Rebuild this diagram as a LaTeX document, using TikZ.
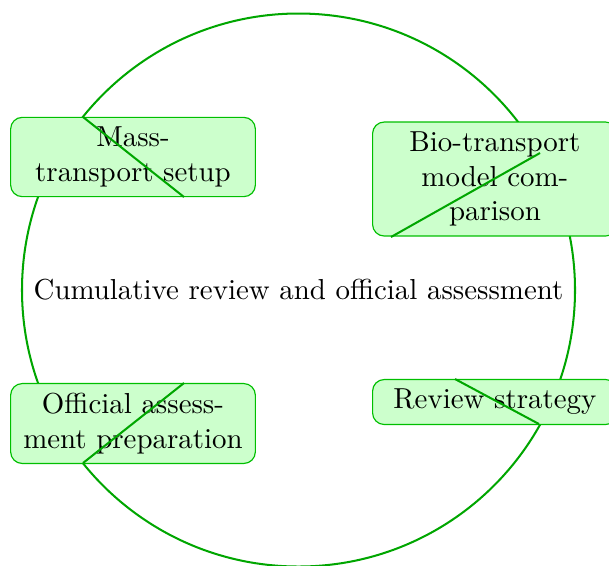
\documentclass[tikz,border=0pt]{standalone}
\begin{document}
\begin{tikzpicture}[x=0.346pt,y=-0.346pt,
  stagebox/.style={draw=green!75!black, line width=0.4pt, fill=green!20, rounded corners=4pt,
    text width=78pt, align=center, inner sep=3.33pt, font=\normalsize},
  ring/.style={draw=green!65!black, line width=0.7pt},
  chord/.style={draw=green!65!black, line width=0.7pt}]
\useasboundingbox (0,0) rectangle (609,565);
\node[inner sep=0pt] (hub) at (298.5,290) {Cumulative review and official assessment};
\draw[ring] (hub.center) circle[radius=276.5];
\node[stagebox] (mass) at (133,157) {Mass-\\transport setup};
\node[stagebox, anchor=west] (bio) at (372,179) {Bio-transport\\model com-\\parison};
\node[stagebox, anchor=west] (rev) at (372,402) {Review strategy};
\node[stagebox] (off) at (133,423.5) {Official assess-\\ment preparation};
\coordinate (m1) at (83,117);
\coordinate (m2) at (184,197);
\coordinate (b1) at (540,153);
\coordinate (b2) at (391,237);
\coordinate (r1) at (455,379);
\coordinate (r2) at (539,424);
\coordinate (o1) at (83,463);
\coordinate (o2) at (184,383);
\draw[chord] (m1) -- (m2);
\draw[chord] (b1) -- (b2);
\draw[chord] (r1) -- (r2);
\draw[chord] (o1) -- (o2);
\end{tikzpicture}
\end{document}
